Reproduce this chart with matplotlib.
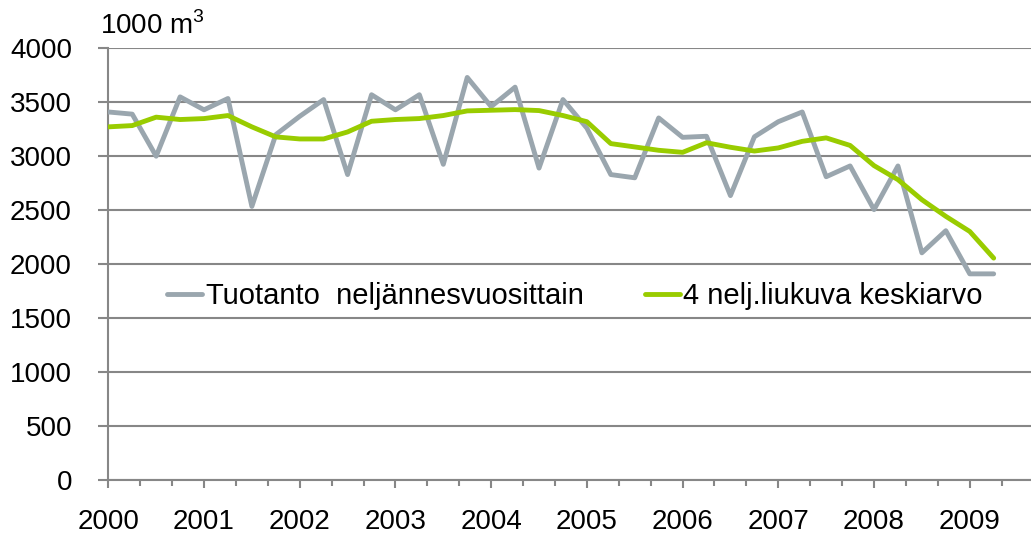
import numpy as np
import matplotlib
matplotlib.use("Agg")
import matplotlib.pyplot as plt
from matplotlib.ticker import MultipleLocator

plt.rcParams['font.family'] = ['Liberation Sans', 'DejaVu Sans']
plt.rcParams['mathtext.fontset'] = 'custom'
plt.rcParams['mathtext.rm'] = 'Liberation Sans'

# Quarterly data 2000Q1 .. 2009Q2 (1000 m3)
quarters = 2000 + np.arange(38) / 4.0
production = [3410, 3390, 3000, 3550, 3430, 3535, 2535, 3200, 3370, 3525,
              2830, 3570, 3430, 3570, 2925, 3730, 3460, 3640, 2890, 3525,
              3260, 2830, 2800, 3355, 3175, 3185, 2635, 3180, 3320, 3410,
              2810, 2910, 2505, 2910, 2105, 2310, 1910, 1910]
moving_avg = [3272, 3284, 3362, 3340, 3349, 3377, 3272, 3179, 3160, 3160,
              3225, 3324, 3340, 3349, 3377, 3420, 3426, 3432, 3423, 3377,
              3320, 3117, 3086, 3055, 3036, 3125, 3083, 3048, 3077, 3138,
              3170, 3100, 2913, 2783, 2597, 2443, 2303, 2056]
year_labels = [str(y) for y in range(2000, 2010)]
label_series1 = "Tuotanto  neljännesvuosittain"
label_series2 = "4 nelj.liukuva keskiarvo"

W, H = 1031, 536
FS = 20
fig = plt.figure(figsize=(W / 100, H / 100), dpi=100)
ax = fig.add_axes([108.3 / W, (H - 480) / H, 1 - 108.3 / W, (480 - 48.3) / H])

grid_c = '#878787'
ax.plot(quarters, production, color='#9AA6AE', lw=3.5, solid_joinstyle='round',
        solid_capstyle='round', label=label_series1, zorder=3)
ax.plot(quarters, moving_avg, color='#99CC00', lw=3.5, solid_joinstyle='round',
        solid_capstyle='round', label=label_series2, zorder=4)

ax.set_ylim(0, 4000)
ax.set_xlim(2000, 2009.64)
ax.yaxis.set_major_locator(MultipleLocator(500))
ax.set_xticks(np.arange(2000, 2010))
ax.set_xticklabels(year_labels)
ax.set_xticks(2000 + np.arange(0, 29) / 3.0, minor=True)

ax.grid(axis='y', color=grid_c, lw=1.5, zorder=1)
ax.set_axisbelow(True)
for s in ['top', 'right']:
    ax.spines[s].set_visible(False)
for s in ['left', 'bottom']:
    ax.spines[s].set_color(grid_c)
    ax.spines[s].set_linewidth(1.5)

ax.tick_params(axis='y', length=7.2, width=1.5, color=grid_c, pad=19, labelsize=FS)
ax.tick_params(axis='x', which='major', length=6, width=1.5, color=grid_c, pad=15, labelsize=FS)
ax.tick_params(axis='x', which='minor', length=4.3, width=1.5, color=grid_c)

fig.text(100 / W, 1 - 26 / H, r"1000 m$^{\mathrm{3}}$", fontsize=FS, va='center', ha='left')

ax.legend(loc='center left', bbox_to_anchor=(167 / W, 1 - 296 / H),
          bbox_transform=fig.transFigure, ncol=2, frameon=False,
          fontsize=21, handlelength=1.2, handletextpad=0.12,
          columnspacing=2.1, borderpad=0, borderaxespad=0)

fig.savefig('out.png', dpi=100, facecolor='white')
